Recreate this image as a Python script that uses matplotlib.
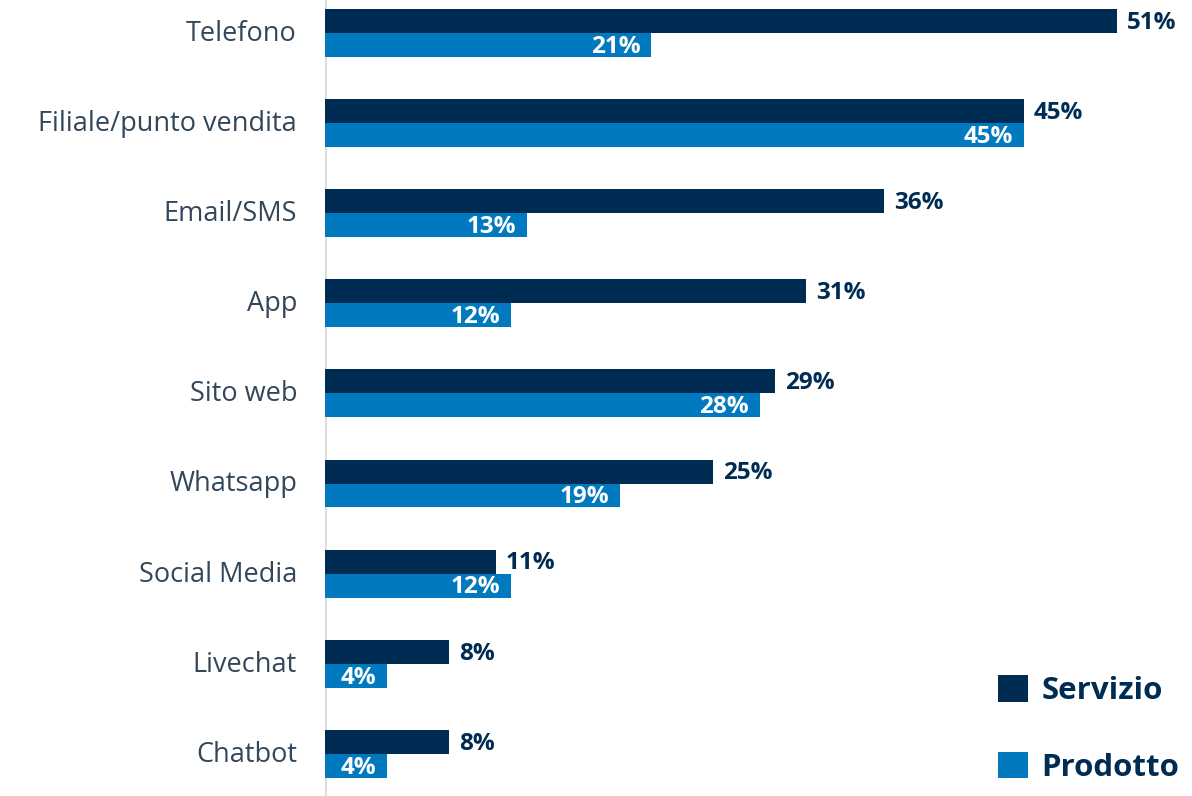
import matplotlib
matplotlib.use("Agg")
import matplotlib.pyplot as plt
import numpy as np

categories = ["Telefono", "Filiale/punto vendita", "Email/SMS", "App", "Sito web",
              "Whatsapp", "Social Media", "Livechat", "Chatbot"]
servizio = [51, 45, 36, 31, 29, 25, 11, 8, 8]
prodotto = [21, 45, 13, 12, 28, 19, 12, 4, 4]
series_names = ["Servizio", "Prodotto"]

DARK = "#002b52"
BLUE = "#0079bf"
TEXT = "#33475b"

plt.rcParams["font.family"] = ["Open Sans", "DejaVu Sans"]

W, H = 1192, 796
fig = plt.figure(figsize=(W / 100, H / 100), dpi=100)
ax = fig.add_axes([325 / W, 0, 1 - 325 / W, 1])

y = np.arange(len(categories))
h = 0.266
b1 = ax.barh(y - h / 2, servizio, height=h, color=DARK, label=series_names[0])
b2 = ax.barh(y + h / 2, prodotto, height=h, color=BLUE, label=series_names[1])

# 15.53 px per percent point
ax.set_xlim(0, (W - 325) / 15.53)
ax.set_ylim(8.468, -0.366)

for yi, v in zip(y, servizio):
    ax.text(v + 0.65, yi - h / 2 + 0.02, f"{v}%", va="center", ha="left",
            fontsize=17.5, fontweight="bold", color=DARK)
for yi, v in zip(y, prodotto):
    ax.text(v - 0.7, yi + h / 2 + 0.02, f"{v}%", va="center", ha="right",
            fontsize=17.5, fontweight="bold", color="white")

for yi, c in zip(y, categories):
    ax.text(-28 / 15.53, yi + 0.01, c, ha="right", va="center", fontsize=19.5, color=TEXT)

ax.axvline(0, color="#dcdcdc", lw=2, zorder=0)
for s in ax.spines.values():
    s.set_visible(False)
ax.set_xticks([])
ax.set_yticks([])

leg = fig.legend(handles=[b1, b2], loc="upper left",
                 bbox_to_anchor=(998 / W, 1 - 675 / H),
                 frameon=False, handlelength=0.95, handleheight=0.95, handletextpad=0.45,
                 labelspacing=1.45, borderpad=0, borderaxespad=0,
                 prop={"size": 22.5, "weight": "bold"})
for t in leg.get_texts():
    t.set_color(DARK)

fig.savefig("out.png", dpi=100)
